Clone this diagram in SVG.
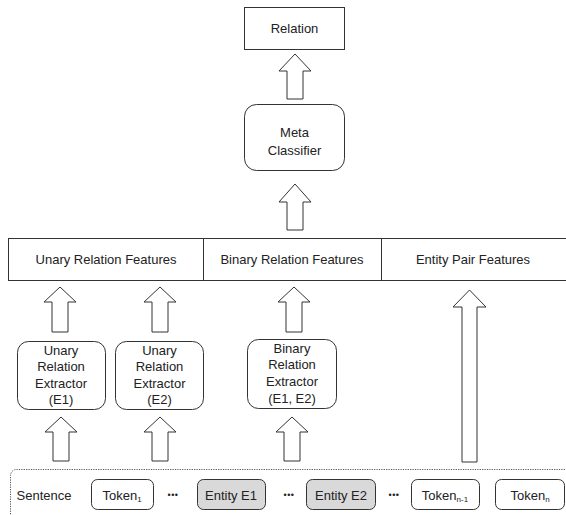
<svg xmlns="http://www.w3.org/2000/svg" width="566" height="515" viewBox="0 0 566 515">
<style>
text{font-family:"Liberation Sans",Arial,sans-serif;font-size:13px;fill:#222;text-anchor:middle}
.box{fill:#fff;stroke:#333;stroke-width:1}
.ent{fill:#d9d9d9;stroke:#333;stroke-width:1}
.arr{fill:#fff;stroke:#333;stroke-width:1}
.sub{font-size:8px}
.dots{font-size:9px;letter-spacing:0.5px}
</style>
<g id="connectors">
<path class="arr" d="M295,54 L311,71 L303,71 L303,99 L287,99 L287,71 L279,71 Z"/>
<path class="arr" d="M295,184 L311,202 L303,202 L303,230 L287,230 L287,202 L279,202 Z"/>
<path class="arr" d="M60,287 L76,302 L68,302 L68,332 L52,332 L52,302 L44,302 Z"/>
<path class="arr" d="M160,287 L176,302 L168,302 L168,332 L152,332 L152,302 L144,302 Z"/>
<path class="arr" d="M294,287 L310,302 L302,302 L302,332 L286,332 L286,302 L278,302 Z"/>
<path class="arr" d="M469.5,290 L486,307 L477,307 L477,462 L462,462 L462,307 L453,307 Z"/>
<path class="arr" d="M61,417 L77,432 L69,432 L69,461 L53,461 L53,432 L45,432 Z"/>
<path class="arr" d="M160,417 L176,432 L168,432 L168,461 L152,461 L152,432 L144,432 Z"/>
<path class="arr" d="M292,417 L308,432 L300,432 L300,461 L284,461 L284,432 L276,432 Z"/>
</g>
<g id="relation"><rect class="box" x="244.5" y="7.5" width="100" height="42"/><text x="294.5" y="33">Relation</text></g>
<g id="meta"><rect class="box" x="244.5" y="104.5" width="100" height="66" rx="12"/><text x="294.5" y="137">Meta</text><text x="294.5" y="155">Classifier</text></g>
<g id="features">
<rect class="box" x="8.5" y="238.5" width="570" height="42"/>
<line x1="203.5" y1="238.5" x2="203.5" y2="280.5" stroke="#333"/>
<line x1="381.5" y1="238.5" x2="381.5" y2="280.5" stroke="#333"/>
</g>
<g id="unary-features"><text x="106" y="264">Unary Relation Features</text></g>
<g id="binary-features"><text x="292" y="264">Binary Relation Features</text></g>
<g id="pair-features"><text x="473" y="264">Entity Pair Features</text></g>
<g id="ure1"><rect class="box" x="17.5" y="341.5" width="88" height="68" rx="11"/><text x="61" y="355">Unary</text><text x="61" y="371">Relation</text><text x="61" y="388">Extractor</text><text x="61" y="404">(E1)</text></g>
<g id="ure2"><rect class="box" x="115.5" y="341.5" width="88" height="68" rx="11"/><text x="159.5" y="355">Unary</text><text x="159.5" y="371">Relation</text><text x="159.5" y="388">Extractor</text><text x="159.5" y="404">(E2)</text></g>
<g id="bre"><rect class="box" x="247.5" y="339.5" width="89" height="69" rx="11"/><text x="292" y="353">Binary</text><text x="292" y="369">Relation</text><text x="292" y="386">Extractor</text><text x="292" y="403">(E1, E2)</text></g>
<g id="sentence">
<rect x="10.5" y="469.5" width="580" height="70" rx="6" fill="none" stroke="#555" stroke-dasharray="1.2,1.2" stroke-width="1"/>
<text x="44" y="500">Sentence</text>
<text class="dots" x="173" y="498">•••</text>
<text class="dots" x="289" y="498">•••</text>
<text class="dots" x="394" y="498">•••</text>
</g>
<g id="token1"><rect class="box" x="91.5" y="479.5" width="62" height="30" rx="6"/><text x="122" y="500">Token<tspan class="sub" dy="2">1</tspan></text></g>
<g id="entity1"><rect class="ent" x="197.5" y="479.5" width="68" height="30" rx="6"/><text x="231" y="500">Entity E1</text></g>
<g id="entity2"><rect class="ent" x="306.5" y="479.5" width="69" height="30" rx="6"/><text x="341" y="500">Entity E2</text></g>
<g id="tokenn1"><rect class="box" x="411.5" y="479.5" width="68" height="30" rx="6"/><text x="445" y="500">Token<tspan class="sub" dy="2">n-1</tspan></text></g>
<g id="tokenn"><rect class="box" x="495.5" y="479.5" width="69" height="30" rx="6"/><text x="530" y="500">Token<tspan class="sub" dy="2">n</tspan></text></g>
</svg>
